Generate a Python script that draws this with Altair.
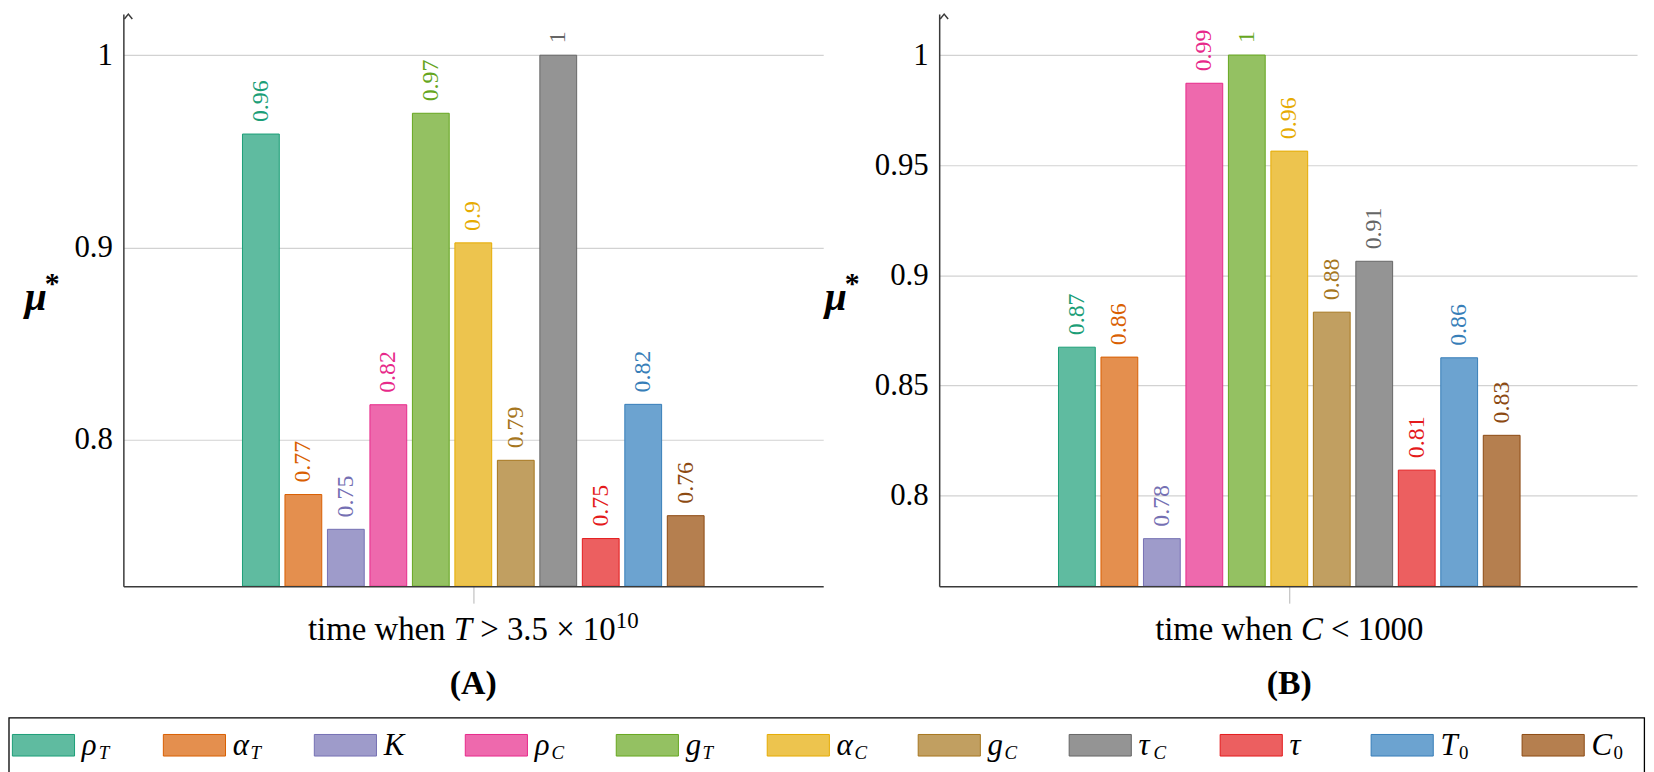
import altair as alt
import pandas as pd

# ---------------- data ----------------
params = ["rho_T", "alpha_T", "K", "rho_C", "g_T", "alpha_C", "g_C", "tau_C", "tau", "T_0", "C_0"]
symbols = ["ρ", "α", "K", "ρ", "g", "α", "g", "τ", "τ", "T", "C"]
subscripts = ["T", "T", "", "C", "T", "C", "C", "C", "", "0", "0"]

values_a = [0.959, 0.7715, 0.7534, 0.8182, 0.9698, 0.9024, 0.7893, 1.0, 0.7486, 0.8184, 0.7605]
values_b = [0.8674, 0.8629, 0.7805, 0.9872, 1.0, 0.9564, 0.8833, 0.9064, 0.8116, 0.8626, 0.8274]

y_ticks_a = [0.8, 0.9, 1.0]
y_ticks_b = [0.8, 0.85, 0.9, 0.95, 1.0]

fill_colors = ["#5fbba0", "#e48f4e", "#9e9bca", "#ee69ad", "#94c162", "#edc44e",
               "#c19f61", "#949494", "#ec5f60", "#6ca3d0", "#b57f4f"]
edge_colors = ["#1b9e77", "#d95f02", "#7570b3", "#e7298a", "#66a61e", "#e6ab02",
               "#a6761d", "#666666", "#e41a1c", "#377eb8", "#8c4a12"]

# axis titles as pieces: (text, italic, superscript)
title_a = [("time when ", False, False), ("T", True, False), (" > 3.5 × 10", False, False), ("10", False, True)]
title_b = [("time when ", False, False), ("C", True, False), (" < 1000", False, False)]
panel_labels = ["(A)", "(B)"]
y_title = ("μ", "*")

FONT = "Liberation Serif"
AXIS_COLOR = "#3a3a3a"
TITLE_SIZE = 33
SUP_SIZE = 23

# Times-compatible advance widths (em) for laying out the multi-style titles
REG_W = {" ": 0.25, "t": 0.278, "i": 0.278, "m": 0.778, "e": 0.444, "w": 0.722, "h": 0.5,
         "n": 0.5, ">": 0.564, "<": 0.564, ".": 0.25, "×": 0.564}
ITAL_W = {"T": 0.556, "C": 0.667, "K": 0.667, "ρ": 0.5, "α": 0.53, "g": 0.5, "τ": 0.44}


def text_width(s, size, italic=False):
    table = ITAL_W if italic else REG_W
    return sum(table.get(c, 0.5) for c in s) * size


fill_enc = alt.Fill("param:N", scale=alt.Scale(domain=params, range=fill_colors), legend=None)
stroke_enc = alt.Stroke("param:N", scale=alt.Scale(domain=params, range=edge_colors), legend=None)
one_row = pd.DataFrame({"k": [0]})


def title_layers(pieces, baseline_y, anchor_df):
    widths = [text_width(s, SUP_SIZE if sup else TITLE_SIZE, it) for s, it, sup in pieces]
    x = -sum(widths) / 2
    out = []
    for (s, it, sup), w in zip(pieces, widths):
        size = SUP_SIZE if sup else TITLE_SIZE
        lead = text_width(s[: len(s) - len(s.lstrip(" "))], size)
        out.append(
            alt.Chart(anchor_df).mark_text(
                text=s.strip(), align="left", baseline="alphabetic", dx=x + lead,
                dy=-12 if sup else 0, font=FONT, fontSize=size,
                fontStyle="italic" if it else "normal", color="black",
            ).encode(y=alt.value(baseline_y))
        )
        x += w
    return out


def panel(values, ydom, xdom, yticks, xtitle, ptitle, width, height, ytitle_x):
    df = pd.DataFrame({"param": params, "idx": list(range(len(params))), "value": values})
    px_per_unit = height / (ydom[1] - ydom[0])
    # arrow head centre sits 5 px below the top so its tip touches the top edge
    corner = pd.DataFrame({"idx": [xdom[0]], "value": [ydom[1] - 5 / px_per_unit]})
    centre = (len(params) - 1) / 2
    anchor = pd.DataFrame({"idx": [centre], "value": [ydom[0]]})

    xenc = alt.X(
        "idx:Q",
        scale=alt.Scale(domain=xdom, nice=False, zero=False),
        axis=alt.Axis(
            values=[centre], labels=False, ticks=True, tickSize=17, tickColor="#b4b4b4",
            tickWidth=1, domain=True, domainColor=AXIS_COLOR, domainWidth=1.5,
            grid=False, title="", zindex=1,
        ),
    )
    yenc = alt.Y(
        "value:Q",
        scale=alt.Scale(domain=ydom, nice=False, zero=False),
        axis=alt.Axis(
            values=yticks, format=".2~f", grid=True, gridColor="#d2d2d2", gridWidth=1.2,
            ticks=False, domain=True, domainColor=AXIS_COLOR, domainWidth=1.5,
            labelFont=FONT, labelFontSize=31, labelColor="black", labelPadding=11,
            title="",
        ),
    )

    bars = alt.Chart(df).mark_bar(size=37, strokeWidth=1, opacity=1).encode(
        y2=alt.datum(ydom[0]), fill=fill_enc, stroke=stroke_enc
    )
    labels = alt.Chart(df).mark_text(
        angle=270, align="left", baseline="middle", dx=12, font=FONT, fontSize=24
    ).encode(
        text=alt.Text("value:Q", format=".2~f"),
        color=alt.Color("param:N", scale=alt.Scale(domain=params, range=edge_colors), legend=None),
    )
    arrow = alt.Chart(corner).mark_point(
        shape="M-0.8,0L0,-1L0.8,0", size=100, filled=False, stroke=AXIS_COLOR,
        strokeWidth=1.5, opacity=1,
    ).encode()

    mu = alt.Chart(anchor).mark_text(
        text=y_title[0], align="center", baseline="alphabetic", font=FONT, fontSize=40,
        fontStyle="italic", fontWeight="bold", color="black",
    ).encode(x=alt.value(ytitle_x), y=alt.value(298))
    star = alt.Chart(anchor).mark_text(
        text=y_title[1], align="left", baseline="alphabetic", font=FONT, fontSize=30,
        fontWeight="bold", color="black",
    ).encode(x=alt.value(ytitle_x + 9), y=alt.value(280))

    tl = title_layers(xtitle, height + 54, anchor)
    sub = alt.Chart(anchor).mark_text(
        text=ptitle, align="center", baseline="alphabetic", font=FONT, fontSize=34,
        fontWeight="bold", color="black",
    ).encode(y=alt.value(height + 108))

    return alt.layer(bars, labels, arrow, mu, star, *tl, sub).encode(x=xenc, y=yenc).properties(
        width=width, height=height
    )


PLOT_H = 575.3
panel_a = panel(values_a, [0.7238, 1.0214], [-3.12, 13.12], y_ticks_a, title_a,
                panel_labels[0], 703.7, PLOT_H, -88)
panel_b = panel(values_b, [0.7589, 1.0186], [-3.125, 13.07], y_ticks_b, title_b,
                panel_labels[1], 701.7, PLOT_H, -104)

# ---------------- legend ----------------
LEG_W = 703.7
LEG_STEP = 151.8
LEG_FIRST = 80.35  # first swatch centre lies left of the first panel's plot area
SYM_SIZE = 31
SUBS_SIZE = 19
SYM_DX = 38.5

leg_df = pd.DataFrame({"param": params, "idx": list(range(len(params))),
                       "sym": symbols, "sub": subscripts})
leg_df["sub_x"] = [i + (SYM_DX + text_width(s, SYM_SIZE, True) + 1.5) / LEG_STEP
                   for i, s in zip(leg_df["idx"], leg_df["sym"])]
leg_dom = [LEG_FIRST / LEG_STEP, (LEG_FIRST + LEG_W) / LEG_STEP]
leg_scale = alt.Scale(domain=leg_dom, nice=False, zero=False)
lx = alt.X("idx:Q", scale=leg_scale, axis=None)
lsx = alt.X("sub_x:Q", scale=leg_scale, axis=None)

box = alt.Chart(one_row).mark_rect(
    fill="white", fillOpacity=0, stroke="black", strokeWidth=1.3
).encode(x=alt.value(-115.0), x2=alt.value(1529.4), y=alt.value(0), y2=alt.value(55))

swatch = alt.Chart(leg_df).mark_point(
    shape="M-1,-0.347H1V0.347H-1Z", size=3906, filled=True, opacity=1, strokeWidth=1
).encode(x=lx, y=alt.value(27.5), fill=fill_enc, stroke=stroke_enc)

sym_text = alt.Chart(leg_df).mark_text(
    align="left", baseline="alphabetic", dx=SYM_DX, font=FONT, fontSize=SYM_SIZE,
    fontStyle="italic", color="black",
).encode(x=lx, y=alt.value(37), text="sym:N")

sub_it = alt.Chart(leg_df).transform_filter(
    "datum.sub != '0' && datum.sub != ''"
).mark_text(
    align="left", baseline="alphabetic", font=FONT, fontSize=SUBS_SIZE,
    fontStyle="italic", color="black",
).encode(x=lsx, y=alt.value(41), text="sub:N")

sub_up = alt.Chart(leg_df).transform_filter("datum.sub == '0'").mark_text(
    align="left", baseline="alphabetic", font=FONT, fontSize=SUBS_SIZE, color="black",
).encode(x=lsx, y=alt.value(41), text="sub:N")

legend = alt.layer(box, swatch, sym_text, sub_it, sub_up).properties(width=LEG_W, height=55)

chart = alt.concat(
    panel_a, panel_b, legend, columns=2,
    spacing={"row": 131.7, "column": 116.3}, bounds="flush",
).properties(padding=0).configure_view(strokeWidth=0)

chart.save("out.html", embed_options={"renderer": "svg", "actions": False})
